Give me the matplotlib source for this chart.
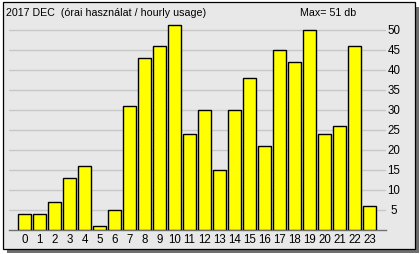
import matplotlib
matplotlib.use("Agg")
import matplotlib.pyplot as plt
from matplotlib.patches import Rectangle
from matplotlib import font_manager

hours = list(range(24))
hour_labels = [str(h) for h in hours]
usage = [4, 4, 7, 13, 16, 1, 5, 31, 43, 46, 51, 24, 30, 15, 30, 38, 21, 45, 42, 50, 24, 26, 46, 6]
y_ticks = [5, 10, 15, 20, 25, 30, 35, 40, 45, 50]
title_text = "2017 DEC  (órai használat / hourly usage)"
max_text = "Max= %d db" % max(usage)

def pick_font(names):
    for n in names:
        try:
            font_manager.findfont(font_manager.FontProperties(family=n), fallback_to_default=False)
            return n
        except Exception:
            continue
    return "DejaVu Sans"

FONT = pick_font(["Liberation Sans Narrow", "Liberation Sans"])
plt.rcParams['font.family'] = [FONT, 'DejaVu Sans']

W, H = 420, 254
DPI = 100
fig = plt.figure(figsize=(W / DPI, H / DPI), dpi=DPI)
fig.patch.set_facecolor("white")

# background / frame in pixel coordinates
bg = fig.add_axes([0, 0, 1, 1])
bg.set_xlim(0, W)
bg.set_ylim(H, 0)
bg.axis("off")
bg.add_patch(Rectangle((7, 7), 412, 246, facecolor="#6e6e6e", edgecolor="none"))
bg.add_patch(Rectangle((2.5, 1.5), 412, 247.5, facecolor="#e8e8e8", edgecolor="black", linewidth=0.9))

bg.text(6, 13.5, title_text, fontsize=7.7, va="center", ha="left", color="black")
bg.text(300, 13.5, max_text, fontsize=7.7, va="center", ha="left", color="black")

# plot area in pixels
left_px, right_px, top_px, bottom_px = 9, 386, 22, 230
ax = fig.add_axes([left_px / W, 1 - bottom_px / H, (right_px - left_px) / W, (bottom_px - top_px) / H])
ax.patch.set_alpha(0)
px_per_bar = 15.0
first_center = 24.5
xmin = -(first_center - left_px) / px_per_bar
xmax = xmin + (right_px - left_px) / px_per_bar
ax.set_xlim(xmin, xmax)
px_per_unit = 4.01
ax.set_ylim(0, (bottom_px - top_px) / px_per_unit)

ax.bar(hours, usage, width=0.84, color="#ffff00", edgecolor="black", linewidth=1.0, zorder=3)

for s in ["top", "left", "right"]:
    ax.spines[s].set_visible(False)
ax.spines["bottom"].set_color("#707070")
ax.spines["bottom"].set_linewidth(1.0)

ax.set_xticks(hours)
ax.set_xticklabels(hour_labels, fontsize=8.3)
ax.tick_params(axis="x", length=0, pad=2.8)

ax.yaxis.tick_right()
ax.set_yticks(y_ticks)
ax.set_yticklabels([str(v) for v in y_ticks], fontsize=8.3)
ax.tick_params(axis="y", length=0, pad=5.8)
for lab in ax.get_yticklabels():
    lab.set_horizontalalignment("center")
ax.grid(axis="y", color="#c8c8c8", linewidth=1.0, zorder=0)
ax.set_axisbelow(True)

fig.savefig("out.png", dpi=DPI)
